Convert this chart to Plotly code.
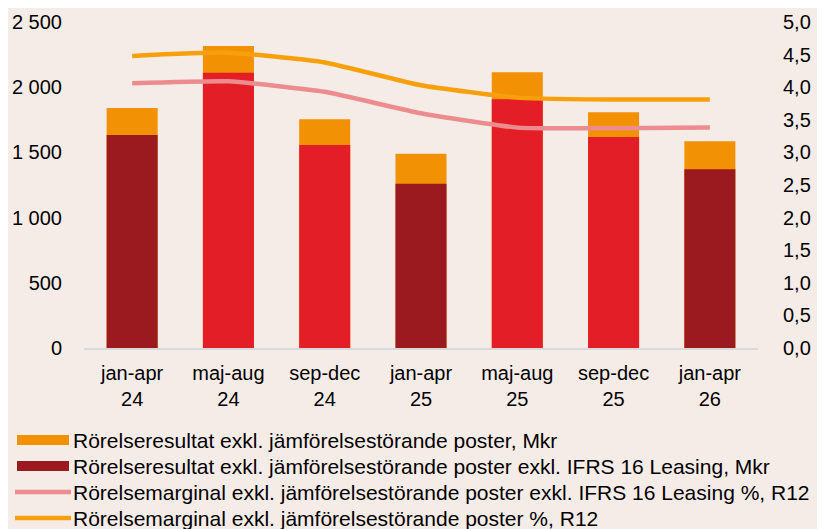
import plotly.graph_objects as go

# perioder (tertial)
periods = ["jan-apr<br>24", "maj-aug<br>24", "sep-dec<br>24", "jan-apr<br>25",
           "maj-aug<br>25", "sep-dec<br>25", "jan-apr<br>26"]

# Mkr
resultat = [1840, 2316, 1754, 1490, 2114, 1807, 1585]
resultat_exkl_ifrs16 = [1633, 2111, 1557, 1260, 1907, 1618, 1370]

# %, R12
marginal_exkl_ifrs16 = [4.06, 4.09, 3.93, 3.60, 3.38, 3.37, 3.38]
marginal = [4.48, 4.53, 4.38, 4.03, 3.84, 3.81, 3.81]

legend_names = [
    "Rörelseresultat exkl. jämförelsestörande poster, Mkr",
    "Rörelseresultat exkl. jämförelsestörande poster exkl. IFRS 16 Leasing, Mkr",
    "Rörelsemarginal exkl. jämförelsestörande poster exkl. IFRS 16 Leasing %, R12",
    "Rörelsemarginal exkl. jämförelsestörande poster %, R12",
]

ORANGE = "#F29104"
DARKRED = "#9B1A1F"
RED = "#E31E26"
PINK = "#EC8C8E"
ORANGE_LINE = "#F7A00C"
BG = "#F6ECE7"

# the page body adds an 8px offset, so everything here is 8px up/left
W, H = 825, 529
L, R, T, B = 76, 75, 14, 189

inner_colors = [DARKRED if p.startswith("jan") else RED for p in periods]

fig = go.Figure()
fig.add_trace(go.Bar(x=periods, y=resultat, marker=dict(color=ORANGE, line_width=0),
                     name=legend_names[0], showlegend=False))
fig.add_trace(go.Bar(x=periods, y=resultat_exkl_ifrs16, marker=dict(color=inner_colors, line_width=0),
                     name=legend_names[1], showlegend=False))
fig.add_trace(go.Scatter(x=periods, y=marginal_exkl_ifrs16, yaxis="y2", mode="lines",
                         line=dict(color=PINK, width=4.5, shape="spline", smoothing=0.45),
                         name=legend_names[2], showlegend=False))
fig.add_trace(go.Scatter(x=periods, y=marginal, yaxis="y2", mode="lines",
                         line=dict(color=ORANGE_LINE, width=4.5, shape="spline", smoothing=0.45),
                         name=legend_names[3], showlegend=False))

# pixel -> paper helpers for the hand made legend
pw, ph = W - L - R, H - T - B
def px_x(x):
    return (x - L) / pw
def px_y(y):
    return (H - B - y) / ph

shapes = []
annotations = []
leg_y = [432, 458, 484, 510]
for i, (name, yy) in enumerate(zip(legend_names, leg_y)):
    if i < 2:
        shapes.append(dict(type="rect", xref="paper", yref="paper",
                           x0=px_x(9), x1=px_x(61), y0=px_y(yy + 5), y1=px_y(yy - 5),
                           fillcolor=[ORANGE, DARKRED][i], line_width=0))
    else:
        shapes.append(dict(type="line", xref="paper", yref="paper",
                           x0=px_x(7), x1=px_x(63), y0=px_y(yy), y1=px_y(yy),
                           line=dict(color=[PINK, ORANGE_LINE][i - 2], width=4.5)))
    annotations.append(dict(text=name, xref="paper", yref="paper",
                            x=px_x(63), y=px_y(yy), xanchor="left", yanchor="middle",
                            showarrow=False, font=dict(size=21, color="#000000")))

fig.update_layout(
    width=W, height=H,
    margin=dict(l=L, r=R, t=T, b=B, pad=0),
    paper_bgcolor=BG, plot_bgcolor=BG,
    font=dict(family="Liberation Sans, Arial, sans-serif", size=20, color="#000000"),
    separators=", ",
    barmode="overlay", bargap=0.47,
    showlegend=False,
    xaxis=dict(showline=True, linecolor="#D9D9D9", linewidth=1.5, ticks="",
               showgrid=False, ticklabelstandoff=6, automargin=False),
    yaxis=dict(range=[0, 2500], dtick=500, tickformat=",d", showgrid=False,
               zeroline=False, ticklabelstandoff=21, automargin=False),
    yaxis2=dict(range=[0, 5], dtick=0.5, tickformat=".1f", overlaying="y", side="right",
                showgrid=False, zeroline=False, ticklabelstandoff=24, automargin=False),
    shapes=shapes, annotations=annotations,
)

fig.write_html("out.html")
